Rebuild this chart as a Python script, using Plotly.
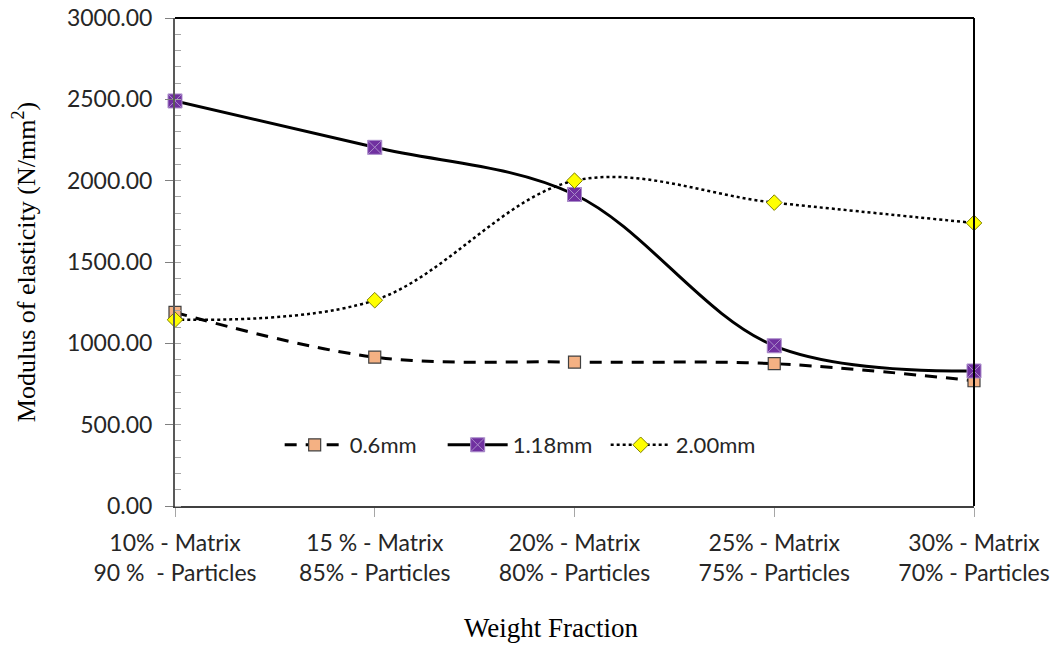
import plotly.graph_objects as go

categories = ["10% - Matrix<br>90 %  - Particles", "15 % - Matrix<br>85% - Particles",
              "20% - Matrix<br>80% - Particles", "25% - Matrix<br>75% - Particles",
              "30% - Matrix<br>70% - Particles"]
s06 = [1190, 915, 885, 875, 770]
s118 = [2490, 2205, 1915, 985, 830]
s200 = [1145, 1265, 2000, 1865, 1740]
yticks = [0, 500, 1000, 1500, 2000, 2500, 3000]

x = list(range(len(categories)))
fig = go.Figure()
fig.add_trace(go.Scatter(x=x, y=s06, name="0.6mm", mode="lines+markers", cliponaxis=False,
    line=dict(color="black", width=3, dash="12px,9px", shape="spline", smoothing=1),
    marker=dict(symbol="square", size=12, color="#F4B183", line=dict(color="#404040", width=1.2))))
fig.add_trace(go.Scatter(x=x, y=s118, name="1.18mm", mode="lines+markers", cliponaxis=False,
    line=dict(color="black", width=3, shape="spline", smoothing=1),
    marker=dict(symbol="square-x", size=14, color="#7030A0", line=dict(color="#A98BC9", width=1))))
fig.add_trace(go.Scatter(x=x, y=s200, name="2.00mm", mode="lines+markers", cliponaxis=False,
    line=dict(color="black", width=2.5, dash="dot", shape="spline", smoothing=1),
    marker=dict(symbol="diamond", size=12, color="#FFFF00", line=dict(color="#7F7F00", width=1))))

tickfont = dict(family="Lato, Open Sans, sans-serif", size=23, color="#262626")
serif = "Liberation Serif, Times New Roman, serif"
fig.update_layout(
    width=1061, height=645,
    margin=dict(l=175, r=87, t=18, b=139, autoexpand=False),
    plot_bgcolor="white", paper_bgcolor="white",
    showlegend=True,
    legend=dict(orientation="h", x=0.131, y=0.125, xanchor="left", yanchor="middle",
                font=dict(family="Lato, Open Sans, sans-serif", size=22, color="#262626"),
                bgcolor="rgba(255,255,255,0)", itemwidth=60, entrywidth=88, entrywidthmode="pixels",
                tracegroupgap=0),
    xaxis=dict(range=[0, 4], tickvals=x, ticktext=categories, showgrid=False, zeroline=False,
               automargin=False,
               showline=True, linecolor="#404040", linewidth=2, ticks="outside", ticklen=9,
               tickcolor="#A6A6A6", tickwidth=1.2, tickfont=tickfont, ticklabelstandoff=6),
    yaxis=dict(range=[0, 3000], tickvals=yticks, ticktext=[f"{v:.2f}" for v in yticks],
               automargin=False,
               showgrid=False, zeroline=False, showline=True, linecolor="#595959", linewidth=2,
               ticks="outside", ticklen=8, tickcolor="#808080", tickwidth=1.2, tickfont=tickfont,
               ticklabelstandoff=8,
               minor=dict(ticks="inside", dtick=100, ticklen=6, tickcolor="#A6A6A6", tickwidth=1),
               title=dict(text="Modulus of elasticity (N/mm<sup>2</sup>)",
                          font=dict(family=serif, size=26, color="black"), standoff=24)),
)
fig.add_annotation(text="Weight Fraction", xref="paper", yref="paper",
                   x=(551 - 175) / 799, y=-(628 - 506) / 488, xanchor="center", yanchor="middle",
                   showarrow=False, font=dict(family=serif, size=27, color="black"))
fig.add_shape(type="line", xref="paper", yref="paper", x0=0, x1=1, y0=1, y1=1, line=dict(color="black", width=2))
fig.add_shape(type="line", xref="paper", yref="paper", x0=1, x1=1, y0=0, y1=1, line=dict(color="black", width=2))
fig.write_html("out.html")
